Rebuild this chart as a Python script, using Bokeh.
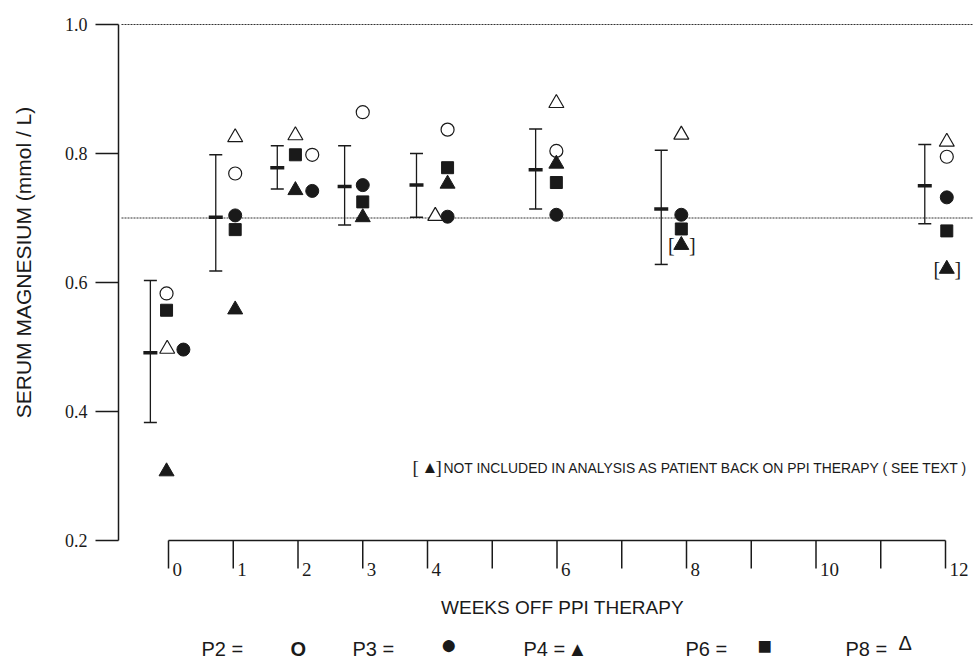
import math
from bokeh.plotting import figure
from bokeh.models import Range1d
from bokeh.core.properties import value
from bokeh.embed import file_html
from bokeh.resources import INLINE

# ---------------- data ----------------
# summary (mean with range bars) for each visit, drawn just left of the visit
bar_x = [-0.28, 0.73, 1.68, 2.72, 3.83, 5.67, 7.61, 11.68]
bar_mean = [0.491, 0.701, 0.778, 0.749, 0.751, 0.775, 0.714, 0.750]
bar_hi = [0.603, 0.798, 0.812, 0.812, 0.800, 0.838, 0.805, 0.814]
bar_lo = [0.383, 0.618, 0.745, 0.689, 0.701, 0.714, 0.628, 0.691]

# individual patients (x = weeks off PPI therapy, y = serum Mg mmol/L)
p2_x = [-0.03, 1.03, 2.22, 3.00, 4.31, 5.99, 12.02]
p2_y = [0.583, 0.769, 0.798, 0.864, 0.837, 0.804, 0.795]

p3_x = [0.23, 1.03, 2.22, 3.00, 4.31, 5.99, 7.92, 12.02]
p3_y = [0.496, 0.704, 0.742, 0.751, 0.702, 0.705, 0.705, 0.732]

p4_x = [-0.03, 1.03, 1.96, 3.00, 4.31, 5.99]
p4_y = [0.307, 0.558, 0.743, 0.701, 0.753, 0.784]
p4_excl_x = [7.92, 12.02]          # bracketed: not included in analysis
p4_excl_y = [0.658, 0.621]

p6_x = [-0.03, 1.03, 1.96, 3.00, 4.31, 5.99, 7.92, 12.02]
p6_y = [0.557, 0.682, 0.798, 0.725, 0.778, 0.755, 0.683, 0.680]

p8_x = [-0.02, 1.03, 1.96, 4.12, 5.99, 7.92, 12.02]
p8_y = [0.497, 0.825, 0.828, 0.703, 0.878, 0.829, 0.818]

ref_lines = [1.0, 0.7]

y_ticks = [0.2, 0.4, 0.6, 0.8, 1.0]
y_tick_labels = ["0.2", "0.4", "0.6", "0.8", "1.0"]
x_ticks = list(range(0, 13))
x_label_pos = [0, 1, 2, 3, 4, 6, 8, 10, 12]
x_label_text = ["0", "1", "2", "3", "4", "6", "8", "10", "12"]

legend_names = ["P2 =", "P3 =", "P4 =", "P6 =", "P8 ="]
legend_syms = ["O", "\u25CF", "\u25B2", "\u25A0", "\u0394"]

note_text = "NOT INCLUDED IN ANALYSIS AS PATIENT BACK ON PPI THERAPY ( SEE TEXT )"

# ---------------- scale: the plotting frame covers the whole canvas ----------------
W, H = 973, 659
X0_PX, PX_PER_WEEK = 168.0, 64.75       # week 0 at this canvas x
Y1_PX, PX_PER_UNIT = 24.0, 645.0        # 1.0 mmol/L at this canvas y


def X(px):
    return (px - X0_PX) / PX_PER_WEEK


def Y(py):
    return 1.0 - (py - Y1_PX) / PX_PER_UNIT


SANS = "Liberation Sans"
SERIF = "Liberation Serif"
INK = "#1a1a1a"

p = figure(width=W, height=H,
           x_range=Range1d(X(0), X(W)), y_range=Range1d(Y(H), Y(0)),
           x_axis_location=None, y_axis_location=None,
           output_backend="svg", toolbar_location=None,
           min_border=0)
p.min_border_left = p.min_border_right = p.min_border_top = p.min_border_bottom = 0
p.outline_line_color = None
p.grid.visible = False
p.background_fill_color = "white"
p.border_fill_color = "white"


def txt(x, y, text, font=SANS, size="19px", align="left", baseline="middle",
        angle=0.0, style="normal", x_offset=0):
    p.text(x=x, y=y, text=text, angle=angle, x_offset=x_offset,
           text_align=align, text_baseline=baseline, text_color=INK,
           text_font=value(font), text_font_size=size, text_font_style=style)


# ---- y axis ----
y_axis_x = X(118)
p.segment(x0=[y_axis_x], y0=[min(y_ticks)], x1=[y_axis_x], y1=[max(y_ticks)],
          line_color=INK, line_width=1.5)
p.segment(x0=[X(95)] * len(y_ticks), y0=y_ticks, x1=[y_axis_x] * len(y_ticks), y1=y_ticks,
          line_color=INK, line_width=1.5)
txt([X(87)] * len(y_ticks), y_ticks, y_tick_labels, font=SERIF, size="18px", align="right")

# ---- x axis ----
x_axis_y = min(y_ticks)
p.segment(x0=[min(x_ticks)], y0=[x_axis_y], x1=[max(x_ticks)], y1=[x_axis_y],
          line_color=INK, line_width=1.5)
p.segment(x0=x_ticks, y0=[x_axis_y] * len(x_ticks), x1=x_ticks, y1=[Y(568)] * len(x_ticks),
          line_color=INK, line_width=1.5)
txt(x_label_pos, [Y(562)] * len(x_label_pos), x_label_text, font=SERIF, size="19px",
    baseline="top", x_offset=4)

# ---- dotted reference lines ----
p.ray(x=[X(121)] * len(ref_lines), y=ref_lines, length=0, angle=0,
      line_color="#333333", line_width=1, line_dash="2 1")

# ---- range bars with mean ----
p.segment(x0=bar_x, y0=bar_lo, x1=bar_x, y1=bar_hi, line_color=INK, line_width=1.3)
p.scatter(bar_x, bar_hi, marker="dash", size=13, line_color=INK, line_width=1.5)
p.scatter(bar_x, bar_lo, marker="dash", size=13, line_color=INK, line_width=1.5)
p.scatter(bar_x, bar_mean, marker="dash", size=14, line_color=INK, line_width=3.5)

# ---- patients ----
p.scatter(p2_x, p2_y, marker="circle", size=13, fill_color="white", line_color=INK, line_width=1.2)
p.scatter(p3_x, p3_y, marker="circle", size=13, fill_color=INK, line_color=INK)
p.scatter(p4_x, p4_y, marker="triangle", size=15, fill_color=INK, line_color=INK)
p.scatter(p4_excl_x, p4_excl_y, marker="triangle", size=15, fill_color=INK, line_color=INK)
p.scatter(p6_x, p6_y, marker="square", size=12, fill_color=INK, line_color=INK)
p.scatter(p8_x, p8_y, marker="triangle", size=15, fill_color="white", line_color=INK, line_width=1.2)

# brackets around the excluded points
txt(p4_excl_x, p4_excl_y, ["["] * len(p4_excl_x), font=SERIF, size="20px",
    align="center", x_offset=-10)
txt(p4_excl_x, p4_excl_y, ["]"] * len(p4_excl_x), font=SERIF, size="20px",
    align="center", x_offset=11)

# ---- axis titles ----
txt([X(23)], [Y(262)], ["SERUM MAGNESIUM (mmol / L)"], size="21px", align="center",
    angle=math.pi / 2)
txt([X(562)], [Y(607)], ["WEEKS OFF PPI THERAPY"], size="19px", align="center")

# ---- note ----
txt([X(412)], [Y(467)], ["["], font=SERIF, size="19px")
txt([X(421)], [Y(467)], ["\u25B2"], size="17px")
txt([X(435)], [Y(467)], ["]"], font=SERIF, size="19px")
txt([X(443)], [Y(467)], [note_text], size="13.9px")

# ---- legend row ----
leg_x = [201, 352, 523, 685, 845]
leg_sym_x = [290, 440, 567, 757, 898]
leg_sym_size = ["20px", "28px", "20px", "24px", "20px"]
leg_sym_y = [648, 644, 648, 645, 642]
leg_y = 648
txt([X(v) for v in leg_x], [Y(leg_y)] * len(leg_x), legend_names, size="20px")
for i, sym in enumerate(legend_syms):
    txt([X(leg_sym_x[i])], [Y(leg_sym_y[i])], [sym], size=leg_sym_size[i],
        style="bold" if sym == "O" else "normal")

open("out.html", "w").write(file_html(p, INLINE))
